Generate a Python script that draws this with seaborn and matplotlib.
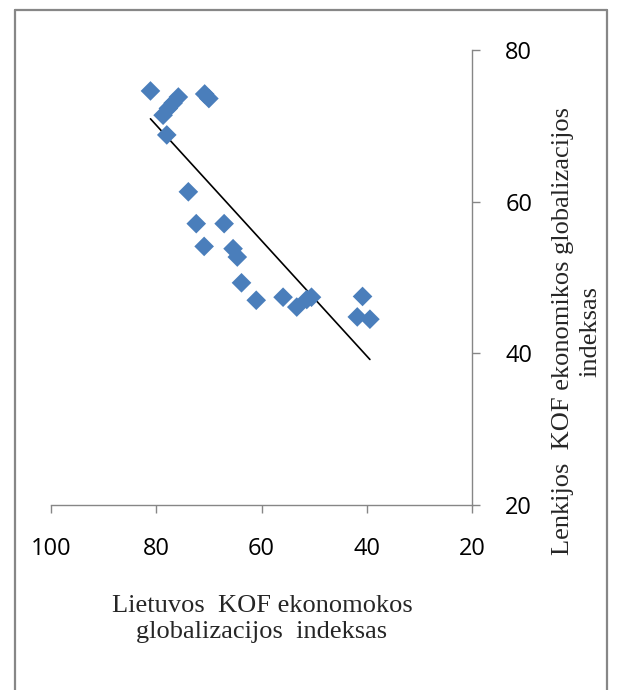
import matplotlib
matplotlib.use("Agg")
import matplotlib.pyplot as plt
import seaborn as sns
import pandas as pd
import numpy as np
from matplotlib.lines import Line2D

# Data
lithuania_kof = [81.1, 75.8, 76.8, 77.7, 78.7, 78.0, 70.8, 70.0, 73.9, 72.4, 67.1, 70.9,
                 65.4, 64.6, 63.8, 61.0, 55.9, 53.3, 51.4, 50.5, 40.8, 41.8, 39.4]
poland_kof = [74.6, 73.8, 73.0, 72.3, 71.4, 68.8, 74.2, 73.6, 61.3, 57.1, 57.1, 54.1,
              53.8, 52.7, 49.3, 47.0, 47.4, 46.1, 47.1, 47.4, 47.5, 44.8, 44.5]
x_ticks = [100, 80, 60, 40, 20]
y_ticks = [20, 40, 60, 80]
x_label = "Lietuvos  KOF ekonomokos\nglobalizacijos  indeksas"
y_label = "Lenkijos  KOF ekonomikos globalizacijos\nindeksas"

df = pd.DataFrame({"lt": lithuania_kof, "pl": poland_kof})

sns.set_theme(style="white")
plt.rcParams["font.family"] = ["Open Sans", "DejaVu Sans"]

W, H = 617, 690
fig = plt.figure(figsize=(W / 100, H / 100), dpi=100)
ax = fig.add_axes([51 / W, 1 - 505 / H, (472 - 51) / W, (505 - 50) / H])

sns.scatterplot(data=df, x="lt", y="pl", marker="D", s=100, color="#4A7EBB",
                edgecolor="none", linewidth=0, ax=ax, zorder=3)
sns.regplot(data=df, x="lt", y="pl", scatter=False, ci=None, truncate=True,
            line_kws={"color": "black", "linewidth": 1.2}, ax=ax)

ax.set_xlim(100, 20)
ax.set_ylim(20, 80)
ax.set_xticks(x_ticks)
ax.set_yticks(y_ticks)
ax.set_xlabel("")
ax.set_ylabel("")

for s in ["top", "left"]:
    ax.spines[s].set_visible(False)
for s in ["bottom", "right"]:
    ax.spines[s].set_color("#868686")
    ax.spines[s].set_linewidth(1.0)

ax.yaxis.tick_right()
ax.tick_params(axis="x", direction="out", length=6, width=1, color="#868686",
               labelsize=17, pad=17, bottom=True)
ax.tick_params(axis="y", direction="out", length=6, width=1, color="#868686",
               labelsize=17, pad=18, right=True, left=False)
for lab in ax.get_xticklabels() + ax.get_yticklabels():
    lab.set_color("black")

fig.text(262 / W, 1 - 619 / H, x_label, ha="center", va="center",
         multialignment="center", fontsize=19, family=["Liberation Serif"],
         linespacing=1.2)
fig.text(577 / W, 1 - 331 / H, y_label, ha="center", va="center", rotation=90,
         multialignment="center", fontsize=19, family=["Liberation Serif"],
         linespacing=1.3)

# outer frame
frame_kw = dict(color="#878787", linewidth=1.6, transform=fig.transFigure)
fig.add_artist(Line2D([15 / W, 15 / W], [1 - 10 / H, -0.02], **frame_kw))
fig.add_artist(Line2D([15 / W, 607 / W], [1 - 10 / H, 1 - 10 / H], **frame_kw))
fig.add_artist(Line2D([607 / W, 607 / W], [1 - 10 / H, -0.02], **frame_kw))

fig.savefig("out.png", dpi=100)
